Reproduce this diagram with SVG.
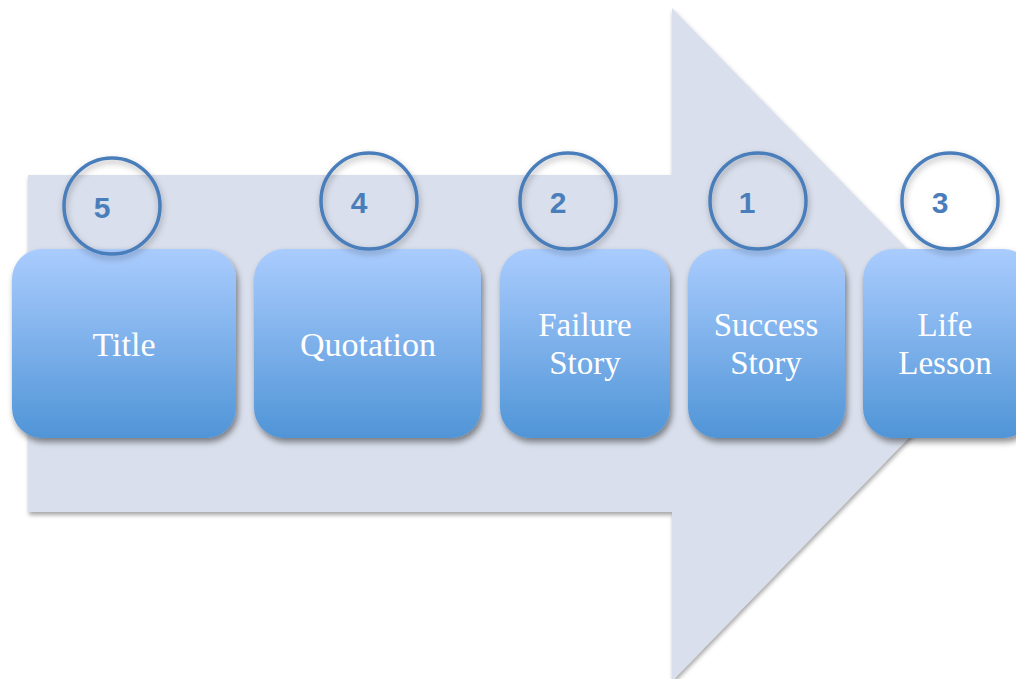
<svg xmlns="http://www.w3.org/2000/svg" width="1016" height="679" viewBox="0 0 1016 679">
<defs>
<linearGradient id="boxGrad" x1="0" y1="0" x2="0" y2="1">
<stop offset="0" stop-color="#AACCFE"/>
<stop offset="1" stop-color="#5095D7"/>
</linearGradient>
<filter id="arrowShadow" x="-5%" y="-5%" width="110%" height="110%">
<feDropShadow dx="1" dy="3" stdDeviation="2" flood-color="#000" flood-opacity="0.35"/>
</filter>
<filter id="boxShadow" x="-10%" y="-10%" width="125%" height="125%">
<feDropShadow dx="2" dy="4" stdDeviation="3" flood-color="#000" flood-opacity="0.45"/>
</filter>
<filter id="circleShadow" x="-20%" y="-20%" width="150%" height="150%">
<feDropShadow dx="1" dy="3" stdDeviation="3" flood-color="#000" flood-opacity="0.3"/>
</filter>
</defs>
<style>
.box{fill:url(#boxGrad);filter:url(#boxShadow);}
.lbl{font-family:"Liberation Serif","Times New Roman",serif;font-size:34px;fill:#FFFFFF;text-anchor:middle;}
.lbl2{font-family:"Liberation Serif","Times New Roman",serif;font-size:33px;fill:#FFFFFF;text-anchor:middle;}
.ring{fill:none;stroke:#4A7EBB;stroke-width:3.5;filter:url(#circleShadow);}
.num{font-family:"Liberation Sans",Arial,sans-serif;font-weight:bold;font-size:30px;fill:#4A7EBB;text-anchor:middle;}
</style>
<rect width="1016" height="679" fill="#FFFFFF"/>
<g id="arrow">
<path d="M28,175 L672,175 L672,8 L1000,344 L672,681 L672,512 L28,512 Z" fill="#D9DFEC" filter="url(#arrowShadow)"/>
</g>
<g id="connectors"></g>
<g id="node-title">
<rect class="box" x="12" y="249" width="224" height="189" rx="30"/>
<text class="lbl" x="124" y="356">Title</text>
</g>
<g id="node-quotation">
<rect class="box" x="254" y="249" width="227" height="189" rx="30"/>
<text class="lbl" x="368" y="356">Quotation</text>
</g>
<g id="node-failure">
<rect class="box" x="500" y="249" width="170" height="189" rx="30"/>
<text class="lbl2" x="585" y="336">Failure</text>
<text class="lbl2" x="585" y="374">Story</text>
</g>
<g id="node-success">
<rect class="box" x="688" y="249" width="157" height="189" rx="30"/>
<text class="lbl2" x="766" y="336">Success</text>
<text class="lbl2" x="766" y="374">Story</text>
</g>
<g id="node-life">
<rect class="box" x="863" y="249" width="170" height="189" rx="30"/>
<text class="lbl2" x="945" y="336">Life</text>
<text class="lbl2" x="945" y="374">Lesson</text>
</g>
<g id="badge-5">
<circle class="ring" cx="112" cy="206" r="48"/>
<text class="num" x="102" y="218">5</text>
</g>
<g id="badge-4">
<circle class="ring" cx="369" cy="201" r="48"/>
<text class="num" x="359" y="213">4</text>
</g>
<g id="badge-2">
<circle class="ring" cx="568" cy="201" r="48"/>
<text class="num" x="558" y="213">2</text>
</g>
<g id="badge-1">
<circle class="ring" cx="758" cy="201" r="48"/>
<text class="num" x="747" y="213">1</text>
</g>
<g id="badge-3">
<circle class="ring" cx="950" cy="201" r="48"/>
<text class="num" x="940" y="213">3</text>
</g>
</svg>
